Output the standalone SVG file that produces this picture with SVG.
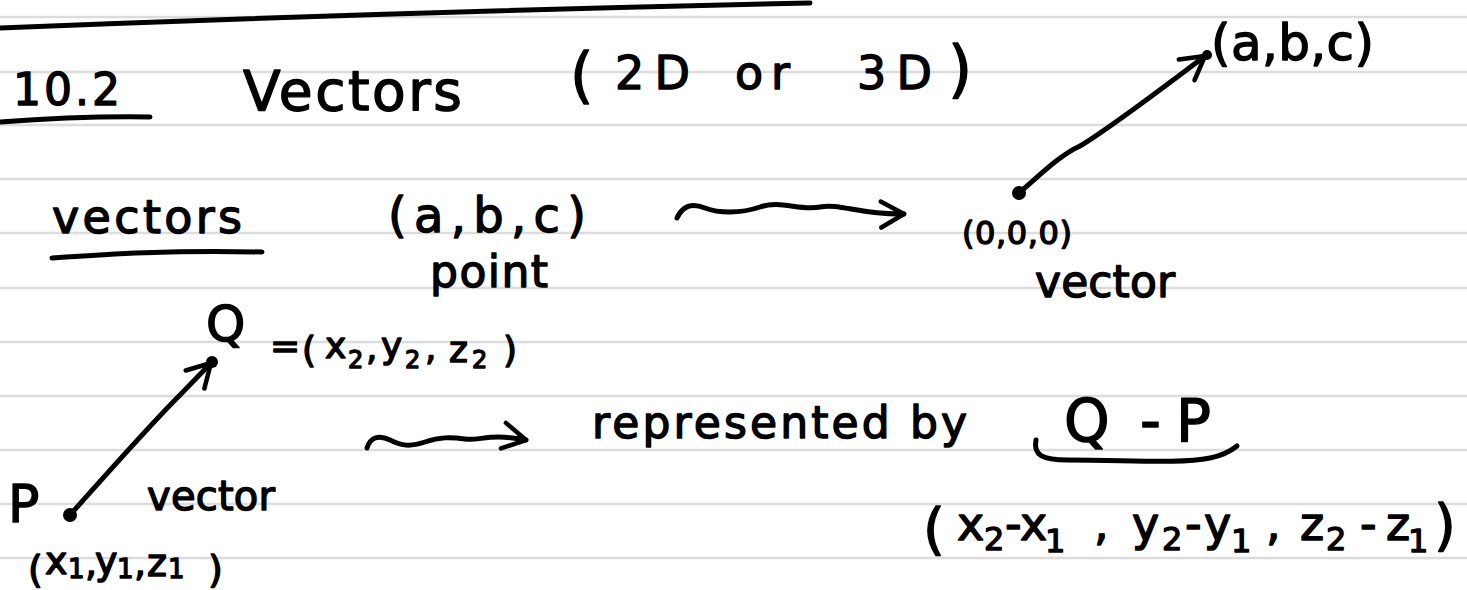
<svg xmlns="http://www.w3.org/2000/svg" width="1467" height="590" viewBox="0 0 1467 590">
<defs>
<style>
.rule{stroke:#dcdcdc;stroke-width:2.5}
.ink{fill:none;stroke:#000;stroke-width:5;stroke-linecap:round;stroke-linejoin:round}
.t{font-family:"DejaVu Sans","Liberation Sans",sans-serif;fill:#000;stroke:#000;stroke-width:1.4;stroke-linejoin:round}
.dot{fill:#000}
</style>
<marker id="barb" markerUnits="userSpaceOnUse" viewBox="-30 -20 34 40" refX="0" refY="0" markerWidth="34" markerHeight="40" orient="auto" overflow="visible">
<path d="M-23,-13 L0,0 L-23,13" fill="none" stroke="#000" stroke-width="4.5" stroke-linecap="round" stroke-linejoin="round"/>
</marker>
</defs>
<rect width="1467" height="590" fill="#fff"/>
<g id="ruled-lines">
<line class="rule" x1="0" y1="17" x2="1467" y2="17"/>
<line class="rule" x1="0" y1="72" x2="1467" y2="72"/>
<line class="rule" x1="0" y1="125" x2="1467" y2="125"/>
<line class="rule" x1="0" y1="179" x2="1467" y2="179"/>
<line class="rule" x1="0" y1="233" x2="1467" y2="233"/>
<line class="rule" x1="0" y1="288" x2="1467" y2="288"/>
<line class="rule" x1="0" y1="342" x2="1467" y2="342"/>
<line class="rule" x1="0" y1="396" x2="1467" y2="396"/>
<line class="rule" x1="0" y1="450" x2="1467" y2="450"/>
<line class="rule" x1="0" y1="504" x2="1467" y2="504"/>
<line class="rule" x1="0" y1="558" x2="1467" y2="558"/>
</g>
<g id="header-rule">
<path class="ink" d="M0,28 Q400,12 810,3"/>
</g>
<g id="title">
<text class="t" x="13" y="105" font-size="44" textLength="107" lengthAdjust="spacing">10.2</text>
<path class="ink" d="M0,122 Q80,116 150,117"/>
<text class="t" x="243" y="110" font-size="55" textLength="219" lengthAdjust="spacing">Vectors</text>
<text class="t" x="570" y="96" font-size="60">(</text>
<text class="t" x="615" y="89" font-size="46" textLength="75" lengthAdjust="spacing">2D</text>
<text class="t" x="735" y="89" font-size="46" textLength="55" lengthAdjust="spacing">or</text>
<text class="t" x="857" y="89" font-size="46" textLength="75" lengthAdjust="spacing">3D</text>
<text class="t" x="948" y="90" font-size="62">)</text>
</g>
<g id="label-vectors">
<text class="t" x="52" y="233" font-size="46" textLength="190" lengthAdjust="spacing">vectors</text>
<path class="ink" d="M52,258 C110,254 170,250 262,252"/>
</g>
<g id="node-point">
<text class="t" x="388" y="232" font-size="48" textLength="198" lengthAdjust="spacing">(a,b,c)</text>
<text class="t" x="430" y="287" font-size="44" textLength="118" lengthAdjust="spacing">point</text>
</g>
<g id="node-origin">
<circle class="dot" cx="1019" cy="193" r="7"/>
<text class="t" x="962" y="244" font-size="32" textLength="110" lengthAdjust="spacing">(0,0,0)</text>
<text class="t" x="1035" y="297" font-size="44" textLength="140" lengthAdjust="spacing">vector</text>
</g>
<g id="node-tip">
<circle class="dot" cx="1207" cy="55" r="5"/>
<text class="t" x="1211" y="60" font-size="50" textLength="163" lengthAdjust="spacing">(a,b,c)</text>
</g>
<g id="node-Q">
<circle class="dot" cx="212" cy="362" r="6"/>
<text class="t" x="206" y="341" font-size="50">Q</text>
<text class="t" font-size="36"><tspan x="270" y="358">=</tspan><tspan x="302" y="362">(</tspan><tspan x="325" y="358">x</tspan><tspan x="348" y="368" font-size="24">2</tspan><tspan x="366" y="360">,</tspan><tspan x="381" y="358">y</tspan><tspan x="405" y="368" font-size="24">2</tspan><tspan x="425" y="360">,</tspan><tspan x="449" y="362">z</tspan><tspan x="472" y="368" font-size="24">2</tspan><tspan x="503" y="362">)</tspan></text>
</g>
<g id="node-P">
<circle class="dot" cx="70" cy="515" r="7"/>
<text class="t" x="8" y="522" font-size="52">P</text>
<text class="t" x="147" y="510" font-size="40" textLength="128" lengthAdjust="spacing">vector</text>
<text class="t" font-size="38"><tspan x="28" y="582">(</tspan><tspan x="45" y="574">x</tspan><tspan x="68" y="578" font-size="26">1</tspan><tspan x="85" y="576">,</tspan><tspan x="95" y="574">y</tspan><tspan x="117" y="578" font-size="26">1</tspan><tspan x="134" y="576">,</tspan><tspan x="147" y="576">z</tspan><tspan x="168" y="578" font-size="26">1</tspan><tspan x="208" y="582">)</tspan></text>
</g>
<g id="node-represented">
<text class="t" x="592" y="438" font-size="44" textLength="375" lengthAdjust="spacing">represented by</text>
</g>
<g id="node-QminusP">
<text class="t" font-size="58"><tspan x="1064" y="441">Q</tspan><tspan x="1140" y="441">-</tspan><tspan x="1176" y="441">P</tspan></text>
<path class="ink" d="M1036,440 C1033,455 1042,460 1068,460 C1130,460 1180,464 1210,458 C1225,455 1232,450 1237,446"/>
</g>
<g id="node-difference">
<text class="t" font-size="46"><tspan x="923" y="548" font-size="56">(</tspan><tspan x="957" y="540">x</tspan><tspan x="984" y="550" font-size="32">2</tspan><tspan x="1005" y="540">-</tspan><tspan x="1020" y="540">x</tspan><tspan x="1045" y="552" font-size="32">1</tspan><tspan x="1094" y="540">,</tspan><tspan x="1132" y="540">y</tspan><tspan x="1162" y="550" font-size="32">2</tspan><tspan x="1185" y="540">-</tspan><tspan x="1204" y="540">y</tspan><tspan x="1231" y="552" font-size="32">1</tspan><tspan x="1266" y="540">,</tspan><tspan x="1300" y="540">z</tspan><tspan x="1326" y="550" font-size="32">2</tspan><tspan x="1360" y="540">-</tspan><tspan x="1386" y="540">z</tspan><tspan x="1408" y="552" font-size="32">1</tspan><tspan x="1434" y="544" font-size="56">)</tspan></text>
</g>
<g id="connectors">
<path class="ink" d="M1019,193 C1040,175 1060,155 1080,146 C1110,128 1160,90 1205,56" marker-end="url(#barb)"/>
<path class="ink" d="M70,515 C110,470 150,425 180,395 L211,363" marker-end="url(#barb)"/>
<path class="ink" d="M677,218 C683,205 692,203 705,208 S740,214 760,207 S800,211 820,207 S860,215 904,214" marker-end="url(#barb)"/>
<path class="ink" d="M367,448 C370,438 378,434 390,440 S410,447 425,442 S450,437 465,439 S490,433 526,440" marker-end="url(#barb)"/>
</g>
</svg>
